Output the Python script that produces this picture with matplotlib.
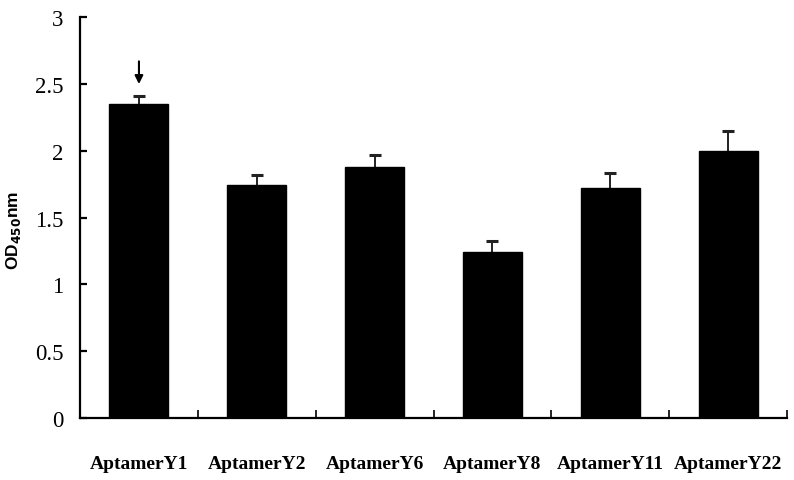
import matplotlib.pyplot as plt
import numpy as np

labels = ['AptamerY1', 'AptamerY2', 'AptamerY6', 'AptamerY8', 'AptamerY11', 'AptamerY22']
od450 = [2.35, 1.746, 1.88, 1.24, 1.72, 1.996]
err = [0.06, 0.075, 0.086, 0.087, 0.116, 0.15]
yticks = [0, 0.5, 1, 1.5, 2, 2.5, 3]
ytick_labels = ['0', '0.5', '1', '1.5', '2', '2.5', '3']

fig = plt.figure(figsize=(7.94, 4.81), dpi=100)
ax = fig.add_axes([0.1008, 0.1289, 0.8904, 0.8331])

x = np.arange(len(labels))
# bars drawn over the error bars so only the upper half shows
ax.bar(x, od450, width=0.5, color='black', edgecolor='black', zorder=3)
ax.errorbar(x, od450, yerr=err, fmt='none', ecolor='#222222',
            elinewidth=1.4, capsize=4.5, capthick=2.2, zorder=2)

# arrow over the first bar
ax.annotate('', xy=(0, 2.5), xytext=(0, 2.67),
            arrowprops=dict(arrowstyle='-|>', color='black', lw=1.5,
                            mutation_scale=12, shrinkA=0, shrinkB=0))

ax.set_xlim(-0.5, len(labels) - 0.5)
ax.set_ylim(0, 3)

for s in ['top', 'right']:
    ax.spines[s].set_visible(False)
for s in ['left', 'bottom']:
    ax.spines[s].set_linewidth(1.6)

ax.set_yticks(yticks)
ax.set_yticklabels(ytick_labels, family='Liberation Serif', fontsize=16.5)
ax.tick_params(axis='y', direction='in', length=5, width=1.6, pad=12)

ax.set_xticks(np.arange(len(labels)) + 0.5)
ax.set_xticklabels([])
ax.tick_params(axis='x', which='major', direction='in', length=6, width=1.2)
ax.set_xticks(x, minor=True)
ax.set_xticklabels(labels, minor=True, family='Liberation Serif',
                   fontweight='bold', fontsize=14)
ax.tick_params(axis='x', which='minor', length=0, pad=27)

ax.set_ylabel(r'OD$_{\mathbf{450}}$nm', family='Liberation Sans',
              fontweight='bold', fontsize=12.5)
ax.yaxis.set_label_coords(-0.08, 0.47)

fig.savefig('out.png', dpi=100)
